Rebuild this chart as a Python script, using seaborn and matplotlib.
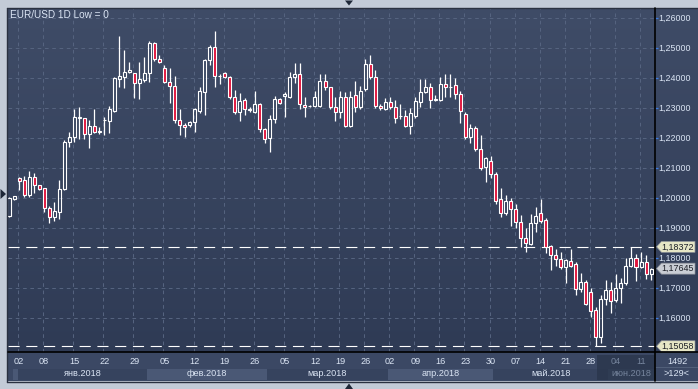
import numpy as np
import pandas as pd
import seaborn as sns
import matplotlib
matplotlib.use("Agg")
import matplotlib.pyplot as plt
from matplotlib.patches import Polygon, Rectangle
from matplotlib.lines import Line2D
from matplotlib.colors import LinearSegmentedColormap

# ---------------- data ----------------
opens = [1.1941, 1.1997, 1.2067, 1.2060, 1.2010, 1.2069, 1.2042, 1.2032, 1.1966, 1.1936,
         1.1955, 1.2029, 1.2186, 1.2202, 1.2266, 1.2266, 1.2212, 1.2240, 1.2220, 1.2259,
         1.2258, 1.2291, 1.2398, 1.2404, 1.2419, 1.2416, 1.2382, 1.2393, 1.2416, 1.2518,
         1.2462, 1.2432, 1.2386, 1.2373, 1.2260, 1.2244, 1.2243, 1.2252, 1.2290, 1.2354,
         1.2460, 1.2504, 1.2407, 1.2416, 1.2404, 1.2338, 1.2288, 1.2327, 1.2296, 1.2286,
         1.2313, 1.2229, 1.2199, 1.2262, 1.2329, 1.2340, 1.2338, 1.2402, 1.2412, 1.2311,
         1.2307, 1.2307, 1.2307, 1.2390, 1.2369, 1.2304, 1.2288, 1.2336, 1.2241, 1.2343,
         1.2302, 1.2363, 1.2446, 1.2402, 1.2308, 1.2297, 1.2321, 1.2302, 1.2272, 1.2274,
         1.2240, 1.2273, 1.2321, 1.2354, 1.2369, 1.2328, 1.2327, 1.2379, 1.2370, 1.2377,
         1.2346, 1.2279, 1.2204, 1.2232, 1.2162, 1.2104, 1.2123, 1.2079, 1.1996, 1.1951,
         1.1990, 1.1962, 1.1921, 1.1866, 1.1847, 1.1916, 1.1949, 1.1927, 1.1840, 1.1810,
         1.1796, 1.1769, 1.1790, 1.1780, 1.1696, 1.1721, 1.1688, 1.1627, 1.1538, 1.1663,
         1.1693, 1.1660, 1.1699, 1.1716, 1.1774, 1.1799, 1.1771, 1.1786, 1.1746]
highs = [1.2002, 1.2008, 1.2069, 1.2073, 1.2089, 1.2084, 1.2044, 1.2035, 1.1973, 1.1988,
         1.2060, 1.2192, 1.2219, 1.2297, 1.2304, 1.2268, 1.2260, 1.2297, 1.2236, 1.2269,
         1.2307, 1.2402, 1.2541, 1.2493, 1.2454, 1.2418, 1.2454, 1.2471, 1.2524, 1.2521,
         1.2477, 1.2443, 1.2432, 1.2407, 1.2296, 1.2250, 1.2258, 1.2299, 1.2369, 1.2462,
         1.2510, 1.2557, 1.2413, 1.2421, 1.2407, 1.2360, 1.2351, 1.2332, 1.2302, 1.2357,
         1.2316, 1.2232, 1.2277, 1.2340, 1.2332, 1.2354, 1.2419, 1.2449, 1.2449, 1.2338,
         1.2310, 1.2357, 1.2412, 1.2412, 1.2371, 1.2338, 1.2357, 1.2354, 1.2357, 1.2390,
         1.2373, 1.2463, 1.2477, 1.2427, 1.2313, 1.2332, 1.2338, 1.2327, 1.2313, 1.2293,
         1.2299, 1.2338, 1.2396, 1.2396, 1.2382, 1.2343, 1.2404, 1.2412, 1.2413, 1.2399,
         1.2357, 1.2288, 1.2247, 1.2240, 1.2210, 1.2138, 1.2140, 1.2088, 1.2034, 1.2010,
         1.1999, 1.1980, 1.1943, 1.1899, 1.1947, 1.1971, 1.1996, 1.1933, 1.1843, 1.1829,
         1.1821, 1.1796, 1.1829, 1.1788, 1.1749, 1.1727, 1.1699, 1.1638, 1.1677, 1.1727,
         1.1721, 1.1747, 1.1732, 1.1799, 1.18372, 1.1812, 1.1819, 1.1810, 1.1767]
lows = [1.1938, 1.1995, 1.2027, 1.2002, 1.2002, 1.2018, 1.2027, 1.1955, 1.1916, 1.1925,
        1.1929, 1.2027, 1.2171, 1.2188, 1.2196, 1.2196, 1.2166, 1.2216, 1.2212, 1.2210,
        1.2216, 1.2288, 1.2369, 1.2366, 1.2416, 1.2332, 1.2330, 1.2388, 1.2388, 1.2458,
        1.2451, 1.2383, 1.2316, 1.2249, 1.2210, 1.2204, 1.2238, 1.2221, 1.2282, 1.2277,
        1.2443, 1.2371, 1.2380, 1.2400, 1.2330, 1.2280, 1.2258, 1.2277, 1.2288, 1.2282,
        1.2221, 1.2184, 1.2154, 1.2251, 1.2313, 1.2269, 1.2333, 1.2382, 1.2297, 1.2271,
        1.2302, 1.2302, 1.2302, 1.2360, 1.2297, 1.2258, 1.2268, 1.2238, 1.2238, 1.2288,
        1.2298, 1.2358, 1.2398, 1.2299, 1.2293, 1.2293, 1.2297, 1.2251, 1.2262, 1.2236,
        1.2213, 1.2268, 1.2302, 1.2350, 1.2299, 1.2325, 1.2322, 1.2338, 1.2338, 1.2329,
        1.2249, 1.2196, 1.2182, 1.2158, 1.2093, 1.2054, 1.2066, 1.1980, 1.1938, 1.1943,
        1.1908, 1.1899, 1.1836, 1.1821, 1.1843, 1.1888, 1.1918, 1.1816, 1.1760, 1.1773,
        1.1765, 1.1716, 1.1770, 1.1677, 1.1688, 1.1643, 1.1605, 1.15058, 1.1518, 1.1643,
        1.1616, 1.1655, 1.1651, 1.1710, 1.1769, 1.1724, 1.1768, 1.1729, 1.1727]
closes = [1.1999, 1.2006, 1.2058, 1.2011, 1.2069, 1.2042, 1.2029, 1.1966, 1.1936, 1.1957,
          1.2029, 1.2188, 1.2202, 1.2269, 1.2271, 1.2213, 1.2240, 1.2221, 1.2222, 1.2261,
          1.2296, 1.2399, 1.2407, 1.2420, 1.2427, 1.2382, 1.2397, 1.2416, 1.2518, 1.2462,
          1.2454, 1.2386, 1.2373, 1.2260, 1.2243, 1.2238, 1.2253, 1.2296, 1.2358, 1.2460,
          1.2504, 1.2407, 1.2406, 1.2404, 1.2336, 1.2288, 1.2323, 1.2297, 1.2295, 1.2313,
          1.2229, 1.2197, 1.2262, 1.2329, 1.2318, 1.2347, 1.2402, 1.2412, 1.2313, 1.2304,
          1.2306, 1.2338, 1.2390, 1.2369, 1.2304, 1.2288, 1.2336, 1.2241, 1.2336, 1.2302,
          1.2357, 1.2446, 1.2402, 1.2308, 1.2299, 1.2321, 1.2302, 1.2268, 1.2275, 1.2240,
          1.2282, 1.2323, 1.2354, 1.2369, 1.2327, 1.2329, 1.2379, 1.2369, 1.2371, 1.2346,
          1.2290, 1.2204, 1.2232, 1.2162, 1.2101, 1.2132, 1.2079, 1.1991, 1.1951, 1.1990,
          1.1962, 1.1921, 1.1866, 1.1849, 1.1916, 1.1940, 1.1924, 1.1838, 1.1810, 1.1796,
          1.1769, 1.1793, 1.1774, 1.1696, 1.1721, 1.1647, 1.1624, 1.1538, 1.1663, 1.1693,
          1.1658, 1.1699, 1.1716, 1.1773, 1.1799, 1.1769, 1.1786, 1.1746, 1.17645]

day_tick_index = [2, 7, 13, 19, 25, 31, 37, 43, 49, 55, 61, 66, 71, 76, 81, 86, 91, 96,
                  101, 106, 111, 116, 121, 126]
day_tick_labels = ["02", "08", "15", "22", "29", "05", "12", "19", "26", "05", "12", "19",
                   "26", "02", "09", "16", "23", "30", "07", "14", "21", "28", "04", "11"]
month_labels = ["янв.2018", "фев.2018", "мар.2018", "апр.2018", "май.2018", "июн.2018"]
month_start_index = [1.85, 27.5, 51.5, 75.5, 96.5, 119.5]
price_levels = [1.16, 1.17, 1.18, 1.19, 1.20, 1.21, 1.22, 1.23, 1.24, 1.25, 1.26]
line_levels = [1.18372, 1.15058]
last_price = 1.17645
title = "EUR/USD 1D Low = 0"

# ---------------- styling ----------------
sns.set_theme(style="dark")
plt.rcParams['font.family'] = ['Liberation Sans', 'DejaVu Sans']

W, H = 698, 389
fig = plt.figure(figsize=(W / 100, H / 100), dpi=100)
fig.patch.set_facecolor('#c3cbd7')


def fx(x):
    return x / W


def fy(y):
    return 1 - y / H


def clean(a):
    a.set_xticks([])
    a.set_yticks([])
    for s in a.spines.values():
        s.set_visible(False)


XLO, XHI = (8 - 9) / 5.016, (655 - 9) / 5.016
YLO, YHI = 1.26 - 334 / 3000, 1.26 + 10 / 3000
bg_cmap = LinearSegmentedColormap.from_list('bg', ['#2f3b55', '#3f4c67'])
grad = np.linspace(0, 1, 256).reshape(-1, 1)
TXT = '#dbe5f4'
GRID = '#55637f'
RED = '#e0143c'

# main plot
ax = fig.add_axes([fx(8), fy(352), (655 - 8) / W, (352 - 8) / H])
clean(ax)
ax.imshow(grad, extent=[XLO, XHI, YLO, YHI], aspect='auto', cmap=bg_cmap,
          origin='lower', zorder=0, interpolation='bilinear')
ax.set_xlim(XLO, XHI)
ax.set_ylim(YLO, YHI)
ax.grid(False)

for v in price_levels:
    ax.axhline(v, color=GRID, lw=0.75, ls=(0, (3.5, 3.5)), zorder=1)
for i in day_tick_index:
    ax.axvline(i - 0.2, color=GRID, lw=0.75, ls=(0, (3.5, 3.5)), zorder=1)

df = pd.DataFrame({'o': opens, 'h': highs, 'l': lows, 'c': closes})
df['idx'] = np.arange(len(df))
df['lo'] = df[['o', 'c']].min(axis=1)
df['hi'] = df[['o', 'c']].max(axis=1)
up = df['c'] >= df['o']

for v in line_levels:
    ax.axhline(v, color='white', lw=0.8, ls=(0, (10, 6)), zorder=2)

ax.vlines(df['idx'], df['l'], df['lo'], color='white', lw=0.9, zorder=3)
ax.vlines(df['idx'], df['hi'], df['h'], color='white', lw=0.9, zorder=3)
heights = np.maximum(df['hi'] - df['lo'], 0.00002)
face = [(0, 0, 0, 0) if u else RED for u in up]
ax.bar(df['idx'], heights, bottom=df['lo'], width=0.6, color=face,
       edgecolor='white', linewidth=0.8, zorder=4)

ax.text(fx(10) / 1, 0, '', transform=ax.transAxes)
fig.text(fx(10), fy(15), title, color=TXT, fontsize=7.2, ha='left', va='center')

# right price panel
rax = fig.add_axes([fx(655), fy(352), 43 / W, (352 - 8) / H])
clean(rax)
rax.imshow(grad, extent=[0, 43, YLO, YHI], aspect='auto', cmap=bg_cmap,
           origin='lower', zorder=0, interpolation='bilinear')
rax.set_xlim(0, 43)
rax.set_ylim(YLO, YHI)
rax.hlines(price_levels, 0, 3, color='#3d7be0', lw=0.9, zorder=1)
for v in price_levels:
    rax.text(3.3, v, f"{v:.5f}".replace('.', ','), color=TXT, fontsize=6.4,
             ha='left', va='center', zorder=2)

hh = 5.5 / 3000
markers = [(line_levels[0], '#e6e6c6'), (last_price, '#c9cdd4'), (line_levels[1], '#e6e6c6')]
for v, col in markers:
    poly = Polygon([(1.5, v), (6.5, v + hh), (40, v + hh), (40, v - hh), (6.5, v - hh)],
                   closed=True, facecolor=col, edgecolor='#8a8f98', lw=0.5, zorder=3)
    rax.add_patch(poly)
    rax.text(6.8, v, f"{v:.5f}".replace('.', ','), color='#1b1e26', fontsize=6.4,
             ha='left', va='center', zorder=4)

# bottom date panel
bax = fig.add_axes([fx(8), fy(381), (655 - 8) / W, 29 / H])
clean(bax)
bax.set_facecolor('#3b4864')
bax.set_xlim(XLO, XHI)
bax.set_ylim(0, 29)
edges = [0.75] + month_start_index + [XHI]
band_cols = ['#4a5875', '#36435e']
for k in range(len(edges) - 1):
    col = band_cols[k % 2]
    bax.add_patch(Rectangle((edges[k], 1), edges[k + 1] - edges[k], 11.5,
                            facecolor=col, edgecolor='none', zorder=1))
ov_lo = (597 - 9) / 5.016
bax.add_patch(Rectangle((ov_lo, 0.8), XHI - ov_lo, 25.5, facecolor='#2b374d',
                        edgecolor='none', alpha=0.85, zorder=2))
for i, lab in zip(day_tick_index, day_tick_labels):
    c = '#75849c' if i > ov_lo else TXT
    bax.text(i, 20, lab, color=c, fontsize=6.6, ha='center', va='center', zorder=3)
for k, lab in enumerate(month_labels):
    lo = month_start_index[k]
    hi = month_start_index[k + 1] if k + 1 < len(month_start_index) else XHI
    mid = (lo + hi) / 2
    c = '#75849c' if mid > ov_lo else TXT
    bax.text(mid, 7, lab, color=c, fontsize=6.6, ha='center', va='center', zorder=3)

# bottom-right cell
cax = fig.add_axes([fx(655), fy(381), 43 / W, 29 / H])
clean(cax)
cax.set_facecolor('#3b4864')
cax.set_xlim(0, 43)
cax.set_ylim(0, 29)
cax.axhline(14.5, color='#56647e', lw=0.6)
cax.text(22, 20, '1492', color=TXT, fontsize=6.6, ha='center', va='center')
cax.text(22, 7, '>129<', color=TXT, fontsize=6.6, ha='center', va='center')

# frame lines
fig.add_artist(Line2D([fx(7.5), fx(698)], [fy(7.5), fy(7.5)], color='#2a3140', lw=1.0))
fig.add_artist(Line2D([fx(7.5), fx(7.5)], [fy(7.5), fy(381.5)], color='#2a3140', lw=1.0))
fig.add_artist(Line2D([fx(7.5), fx(698)], [fy(381.5), fy(381.5)], color='#2a3140', lw=1.0))
fig.add_artist(Line2D([fx(655), fx(655)], [fy(8), fy(381)], color='black', lw=1.2))
fig.add_artist(Line2D([fx(8), fx(698)], [fy(352), fy(352)], color='black', lw=1.2))

# small navigation triangles
tri_col = '#1e2737'
for pts in ([(345, 0.5), (353, 0.5), (349, 5.5)],
            [(345, 389), (353, 389), (349, 383.5)],
            [(0.5, 189), (0.5, 199), (6, 194)]):
    fig.add_artist(Polygon([(fx(x), fy(y)) for x, y in pts], closed=True,
                           facecolor=tri_col, edgecolor='none', transform=fig.transFigure))

fig.savefig('out.png', dpi=100)
